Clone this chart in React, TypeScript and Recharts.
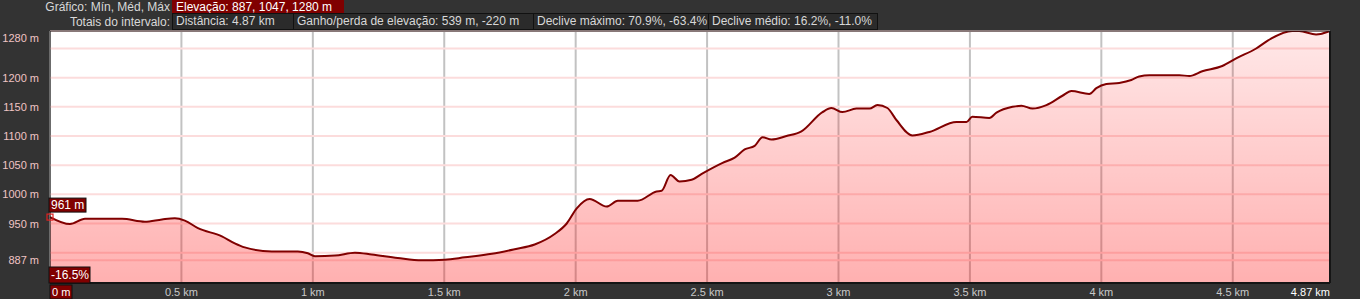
import React from 'react';
import {
  ComposedChart,
  Area,
  XAxis,
  YAxis,
  CartesianGrid,
  ReferenceLine,
  ReferenceDot,
} from 'recharts';

// ---------- data ----------
const distanceKm = [
  0, 0.076, 0.133, 0.202, 0.274, 0.361, 0.426, 0.475, 0.513, 0.563, 0.654, 0.703, 0.741, 0.844,
  0.943, 0.981, 1.008, 1.084, 1.16, 1.224, 1.323, 1.414, 1.502, 1.578, 1.681, 1.768, 1.844, 1.92,
  1.966, 2.004, 2.053, 2.118, 2.16, 2.236, 2.308, 2.327, 2.361, 2.395, 2.441, 2.483, 2.559, 2.605,
  2.643, 2.681, 2.711, 2.745, 2.802, 2.859, 2.939, 2.973, 3.015, 3.068, 3.118, 3.148, 3.186, 3.221,
  3.281, 3.346, 3.449, 3.487, 3.509, 3.574, 3.601, 3.662, 3.696, 3.738, 3.791, 3.852, 3.886, 3.954,
  3.981, 4.019, 4.068, 4.114, 4.144, 4.183, 4.297, 4.335, 4.384, 4.46, 4.513, 4.589, 4.646, 4.726,
  4.753, 4.817, 4.87,
];
const elevationM = [
  961, 949, 958, 958, 958, 953, 957, 959, 955, 942, 928, 916, 909, 902,
  902, 899, 894, 895, 900, 897, 891, 887, 888, 892, 898, 906, 914, 932,
  950, 976, 992, 979, 989, 989, 1005, 1006, 1033, 1022, 1025, 1036, 1054, 1063,
  1077, 1083, 1098, 1094, 1100, 1108, 1141, 1148, 1141, 1147, 1147, 1153, 1148, 1127,
  1101, 1107, 1124, 1124, 1133, 1131, 1140, 1150, 1152, 1147, 1153, 1169, 1177, 1172,
  1182, 1189, 1191, 1196, 1202, 1204, 1204, 1203, 1211, 1220, 1233, 1250, 1267, 1280,
  1280, 1274, 1280,
];
const xTicks = [0, 0.5, 1, 1.5, 2, 2.5, 3, 3.5, 4, 4.5, 4.87];
const yTicks = [887, 900, 950, 1000, 1050, 1100, 1150, 1200, 1250, 1280];
const yUnlabelled = [900, 1250];
const yDomain = [848, 1280];
const headerRow1Label = 'Gráfico: Mín, Méd, Máx';
const headerRow1Box = 'Elevação: 887, 1047, 1280 m';
const headerRow2Label = 'Totais do intervalo:';
const headerRow2Boxes = [
  'Distância: 4.87 km',
  'Ganho/perda de elevação: 539 m, -220 m',
  'Declive máximo: 70.9%, -63.4%',
  'Declive médio: 16.2%, -11.0%',
];
const startElevationLabel = '961 m';
const startGradeLabel = '-16.5%';

const data = distanceKm.map((d, i) => ({ d, e: elevationM[i] }));

const FONT = '"Liberation Sans", Arial, sans-serif';
const BG = '#333333';
const DARK_RED = '#800000';

const row2Widths = [121, 240, 175, 169];

const XTick = (props: any) => {
  const { x, y, payload } = props;
  const v = payload.value;
  const base = y + 13;
  if (v === 0) {
    return (
      <g>
        <rect x={x} y={y + 2} width={22} height={14} fill={DARK_RED} stroke="#111" />
        <text x={x + 2} y={base} fill="#ffffff" fontSize={11} fontFamily={FONT}>
          0 m
        </text>
      </g>
    );
  }
  if (v === 4.87) {
    return (
      <text x={x} y={base} textAnchor="end" fill="#ffffff" fontSize={11} fontFamily={FONT}>
        {`${v} km`}
      </text>
    );
  }
  return (
    <text x={x} y={base} textAnchor="middle" fill="#c8c8c8" fontSize={11} fontFamily={FONT}>
      {`${v} km`}
    </text>
  );
};

const YTick = (props: any) => {
  const { y, payload } = props;
  const v = payload.value;
  if (yUnlabelled.includes(v)) return <g />;
  const by = v === yDomain[1] ? y + 11 : y + 4;
  return (
    <text x={39} y={by} textAnchor="end" fill="#f0c4c4" fontSize={11} fontFamily={FONT}>
      {`${v} m`}
    </text>
  );
};

const StartMarker = (props: any) => {
  const { cx, cy } = props;
  return (
    <g>
      <rect x={cx - 3} y={cy - 3} width={6} height={6} fill="none" stroke="#e02020" strokeWidth={1.2} />
      <rect x={cx - 1} y={cy - 19} width={37} height={14} fill={DARK_RED} stroke="#111" />
      <text x={cx + 1} y={cy - 8} fill="#ffffff" fontSize={12} fontFamily={FONT}>
        {startElevationLabel}
      </text>
    </g>
  );
};

const GradeMarker = (props: any) => {
  const { cx, cy } = props;
  return (
    <g>
      <rect x={cx - 1} y={cy - 16} width={41} height={16} fill={DARK_RED} stroke="#111" />
      <text x={cx + 1} y={cy - 4} fill="#ffffff" fontSize={12} fontFamily={FONT}>
        {startGradeLabel}
      </text>
    </g>
  );
};

export default function App() {
  return (
    <div
      style={{
        position: 'absolute',
        left: 0,
        top: 0,
        width: 1360,
        height: 299,
        background: BG,
        fontFamily: FONT,
        overflow: 'hidden',
      }}
    >
      {/* header row 1 */}
      <div
        style={{
          position: 'absolute',
          left: 0,
          top: 0,
          width: 170,
          height: 14,
          textAlign: 'right',
          color: '#d8d8d8',
          fontSize: 12,
          lineHeight: '14px',
        }}
      >
        {headerRow1Label}
      </div>
      <div
        style={{
          position: 'absolute',
          left: 172,
          top: 0,
          width: 172,
          height: 14,
          background: DARK_RED,
          color: '#ffffff',
          fontSize: 12,
          lineHeight: '14px',
          paddingLeft: 4,
          boxSizing: 'border-box',
          whiteSpace: 'nowrap',
        }}
      >
        {headerRow1Box}
      </div>
      {/* header row 2 */}
      <div
        style={{
          position: 'absolute',
          left: 0,
          top: 14,
          width: 170,
          height: 16,
          textAlign: 'right',
          color: '#d8d8d8',
          fontSize: 12,
          lineHeight: '16px',
        }}
      >
        {headerRow2Label}
      </div>
      {headerRow2Boxes.map((t, i) => {
        const left = 172 + row2Widths.slice(0, i).reduce((a, b) => a + b, 0);
        return (
          <div
            key={i}
            style={{
              position: 'absolute',
              left,
              top: 13,
              width: row2Widths[i] + 1,
              height: 17,
              border: '1px solid #111',
              background: '#2b2b2b',
              color: '#d8d8d8',
              fontSize: 12,
              lineHeight: '15px',
              paddingLeft: 3,
              boxSizing: 'border-box',
              whiteSpace: 'nowrap',
            }}
          >
            {t}
          </div>
        );
      })}

      <div style={{ position: 'absolute', left: 0, top: 0 }}>
        <ComposedChart
          width={1360}
          height={299}
          data={data}
          margin={{ top: 31, right: 30, bottom: 0, left: 0 }}
        >
          <defs>
            <linearGradient id="elevFill" x1="0" y1="0" x2="0" y2="1">
              <stop offset="0%" stopColor="#ff0000" stopOpacity={0.09} />
              <stop offset="100%" stopColor="#ff0000" stopOpacity={0.31} />
            </linearGradient>
          </defs>
          <CartesianGrid
            horizontal={false}
            vertical
            fill="#ffffff"
            stroke="#c2c2c2"
            strokeWidth={2}
          />
          <CartesianGrid horizontal vertical={false} stroke="#fcdcdc" strokeWidth={2} />
          <XAxis
            dataKey="d"
            type="number"
            domain={[0, 4.87]}
            ticks={xTicks}
            interval={0}
            height={16}
            axisLine={false}
            tickLine={false}
            tickSize={0}
            tickMargin={0}
            tick={<XTick />}
          />
          <YAxis
            type="number"
            domain={yDomain}
            ticks={yTicks}
            interval={0}
            width={50}
            allowDataOverflow
            axisLine={false}
            tickLine={false}
            tickSize={0}
            tickMargin={0}
            tick={<YTick />}
          />
          <Area
            type="monotone"
            dataKey="e"
            stroke={DARK_RED}
            strokeWidth={2}
            fill="url(#elevFill)"
            fillOpacity={1}
            dot={false}
            activeDot={false}
            isAnimationActive={false}
          />
          <ReferenceLine x={4.87} stroke="#151515" strokeWidth={2} />
          <ReferenceLine x={0} stroke="#151515" strokeWidth={1} />
          <ReferenceLine y={yDomain[0]} stroke="#151515" strokeWidth={2} />
          <ReferenceLine y={yDomain[1]} stroke="#151515" strokeWidth={1} />
          <ReferenceDot x={0} y={elevationM[0]} shape={<StartMarker />} />
          <ReferenceDot x={0} y={yDomain[0]} shape={<GradeMarker />} />
        </ComposedChart>
      </div>
    </div>
  );
}
